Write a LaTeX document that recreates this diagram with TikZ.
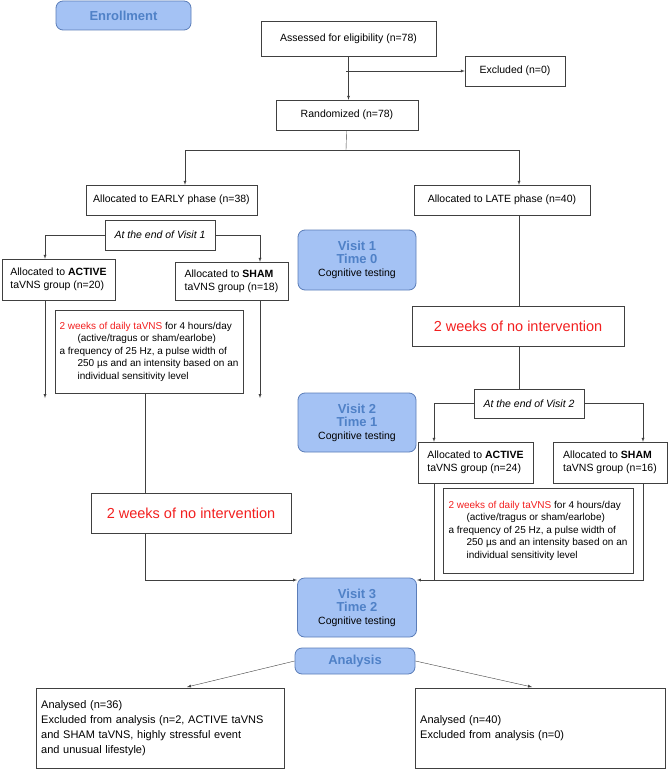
\documentclass[tikz,border=0pt]{standalone}
\usepackage{fontspec}
\setmainfont{Liberation Sans}
\usepackage{tikz}
\usepackage{xcolor}
\definecolor{vblue}{HTML}{A4C2F4}
\definecolor{vdark}{HTML}{5B7DB8}
\definecolor{vtext}{HTML}{4F81C7}
\definecolor{vred}{HTML}{F21F1F}
\begin{document}
\begin{tikzpicture}[x=1pt,y=-1pt,font=\fontsize{10.5}{13}\selectfont]
      \useasboundingbox(0,0) rectangle (668,770);
      \tikzset{B/.style = {draw=black!75, inner sep=2pt, align=center}}
      \tikzset{R/.style = {draw=vdark, fill=vblue, rounded corners=7pt, align=center, line width=0.8pt}}
      \tikzset{E/.style = {draw=black!75, -latex}}
      \tikzset{L/.style = {draw=black!75}}
      \newcommand{\vt}[1]{{\color{vtext}\bfseries\fontsize{13}{15}\selectfont #1}}
      \newcommand{\sm}{\fontsize{10}{12.5}\selectfont}
      \node[R,minimum width=135,minimum height=29](enr) at (123.5,15.5) {\vt{Enrollment}};
      \node[B,minimum width=175,minimum height=35](ass) at (348.5,38.5) {Assessed for eligibility (n=78)};
      \node[B,minimum width=100,minimum height=30](exc) at (515,71) {Excluded (n=0)};
      \node[B,minimum width=142,minimum height=30](ran) at (347,115) {Randomized (n=78)};
      \node[B,minimum width=171,minimum height=30](early) at (171.5,200) {Allocated to EARLY phase (n=38)};
      \node[B,minimum width=176,minimum height=30](late) at (502,200) {Allocated to LATE phase (n=40)};
      \node[B,minimum width=110,minimum height=30,font=\fontsize{10.5}{13}\selectfont\itshape](end1) at (160,235) {At the end of Visit 1};
      \node[B,minimum width=113,minimum height=41,align=left](act1) at (58.5,279.5) {Allocated to \textbf{ACTIVE}\\taVNS group (n=20)};
      \node[B,minimum width=113,minimum height=38,align=left](sham1) at (231.5,281) {Allocated to \textbf{SHAM}\\taVNS group (n=18)};
      \node[R,minimum width=118,minimum height=60](v1) at (357,260) {\vt{Visit 1}\\\vt{Time 0}\\Cognitive testing};
      \node[B,minimum width=188,minimum height=83,align=left,font=\sm](tv1) at (149,351.5) {{\color{vred}2 weeks of daily taVNS} for 4 hours/day\\\hspace*{18pt}(active/tragus or sham/earlobe)\\a frequency of 25 Hz, a pulse width of\\\hspace*{18pt}250 µs and an intensity based on an\\\hspace*{18pt}individual sensitivity level};
      \node[B,minimum width=212,minimum height=40,font=\fontsize{14.5}{17}\selectfont](no2) at (518,326) {\color{vred}2 weeks of no intervention};
      \node[R,minimum width=118,minimum height=59](v2) at (357,422.5) {\vt{Visit 2}\\\vt{Time 1}\\Cognitive testing};
      \node[B,minimum width=110,minimum height=29,font=\fontsize{10.5}{13}\selectfont\itshape](end2) at (529,403.5) {At the end of Visit 2};
      \node[B,minimum width=115,minimum height=41,align=left](act2) at (475.5,462.5) {Allocated to \textbf{ACTIVE}\\taVNS group (n=24)};
      \node[B,minimum width=114,minimum height=41,align=left](sham2) at (610,462.5) {Allocated to \textbf{SHAM}\\taVNS group (n=16)};
      \node[B,minimum width=190,minimum height=85,align=left,font=\sm](tv2) at (538,530.5) {{\color{vred}2 weeks of daily taVNS} for 4 hours/day\\\hspace*{18pt}(active/tragus or sham/earlobe)\\a frequency of 25 Hz, a pulse width of\\\hspace*{18pt}250 µs and an intensity based on an\\\hspace*{18pt}individual sensitivity level};
      \node[B,minimum width=200,minimum height=40,font=\fontsize{14.5}{17}\selectfont](no1) at (191,513) {\color{vred}2 weeks of no intervention};
      \node[R,minimum width=119,minimum height=59](v3) at (357,607.5) {\vt{Visit 3}\\\vt{Time 2}\\Cognitive testing};
      \node[R,minimum width=120,minimum height=26](ana) at (355,661) {\vt{Analysis}};
      \node[B,minimum width=248,minimum height=80,align=left,anchor=north west,text width=238,font=\fontsize{11}{15}\selectfont](res1) at (36,688) {Analysed (n=36)\\Excluded from analysis (n=2, ACTIVE taVNS\\and SHAM taVNS, highly stressful event\\and unusual lifestyle)\par\vspace{12pt}};
      \node[B,minimum width=250,minimum height=80,align=left,anchor=north west,text width=240,font=\fontsize{11}{15}\selectfont](res2) at (415,688) {Analysed (n=40)\\Excluded from analysis (n=0)\par\vspace{42pt}};
      % junctions
      \coordinate (c1) at (346,150);
      \coordinate (c2) at (346,71);
      \draw[E](ass) to (ran.north -| ass);
      \draw[E](c2) to (exc.west);
      \draw[L](ran) to (c1);
      \draw[E](c1) -| (early.north -| 185,0);
      \draw[E](c1) -| (late.north -| 519,0);
      \draw[E](end1.west) -| (act1.north -| 45,0);
      \draw[E](end1.east) -| (sham1.north -| 260,0);
      \draw[E](act1.south -| 45,0) to (45,398);
      \draw[E](sham1.south -| 260,0) to (260,398);
      \draw[L](late.south -| 519,0) to (no2.north -| 519,0);
      \draw[L](no2.south -| 519,0) to (end2.north -| 519,0);
      \draw[E](end2.west) -| (act2.north -| 434,0);
      \draw[E](end2.east) -| (sham2.north -| 643,0);
      \draw[L](act2.south -| 434,0) |- (643,580) to (sham2.south -| 643,0);
      \draw[E](434,580) to (v3.east |- 0,580);
      \draw[L](tv1.south -| 145,0) to (no1.north -| 145,0);
      \draw[E](no1.south -| 145,0) |- (v3.west |- 0,580);
      \draw[E](ana.west) to (187,687);
      \draw[E](ana.east) to (532,687);
\end{tikzpicture}
\end{document}
